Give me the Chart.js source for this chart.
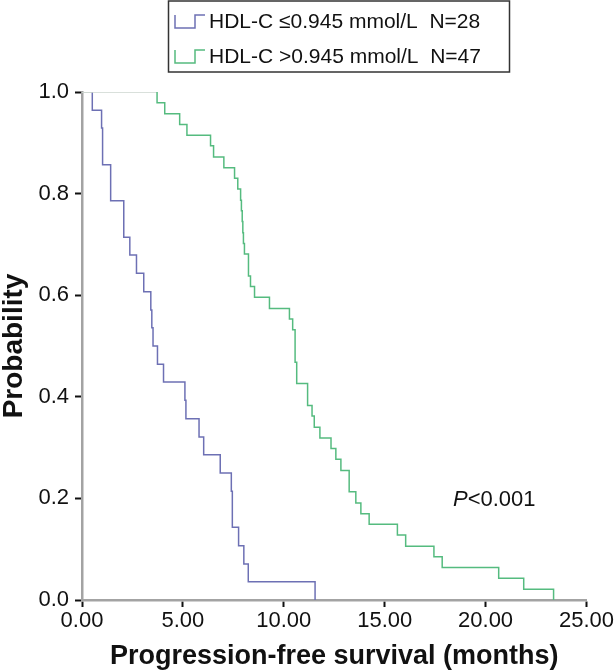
<!DOCTYPE html>
<html>
<head>
<meta charset="utf-8">
<script src="https://cdn.jsdelivr.net/npm/chart.js@4.4.1/dist/chart.umd.min.js"></script>
<style>
  html, body { margin: 0; padding: 0; background: #fff; }
  #wrap { width: 615px; height: 670px; position: relative; }
</style>
</head>
<body>
<div id="wrap"><canvas id="km"></canvas></div>
<script>
// Kaplan-Meier steps: event time (months) -> survival after the drop
const lowLabel = 'HDL-C \u22640.945 mmol/L  N=28';
const lowTimes = [0, 0.51, 0.97, 1.02, 1.42, 2.07, 2.37, 2.70, 3.06, 3.41, 3.46, 3.52, 3.74, 4.04, 5.10, 5.15, 5.80, 6.03, 6.85, 7.40, 7.45, 7.76, 8.02, 8.24, 11.55];
const lowSurv  = [1, 0.964, 0.929, 0.857, 0.786, 0.714, 0.679, 0.643, 0.607, 0.571, 0.536, 0.500, 0.464, 0.429, 0.393, 0.357, 0.321, 0.286, 0.250, 0.214, 0.143, 0.107, 0.071, 0.036, 0];

const highLabel = 'HDL-C >0.945 mmol/L  N=47';
const highTimes = [0, 3.72, 4.10, 4.84, 5.20, 6.37, 6.52, 7.03, 7.56, 7.72, 7.86, 7.90, 7.94, 7.97, 8.00, 8.05, 8.25, 8.35, 8.55, 9.29, 10.28, 10.44, 10.56, 10.64, 11.18, 11.40, 11.51, 11.79, 12.34, 12.58, 12.83, 13.24, 13.57, 13.82, 14.23, 15.63, 16.04, 17.44, 17.85, 20.65, 21.89, 23.37];
const highSurv  = [1, 0.979, 0.957, 0.936, 0.915, 0.894, 0.872, 0.851, 0.830, 0.809, 0.787, 0.766, 0.745, 0.723, 0.702, 0.681, 0.638, 0.617, 0.596, 0.574, 0.553, 0.532, 0.468, 0.426, 0.383, 0.362, 0.340, 0.319, 0.298, 0.277, 0.255, 0.213, 0.191, 0.170, 0.149, 0.128, 0.106, 0.085, 0.064, 0.043, 0.021, 0];

const xTicks = [0, 5, 10, 15, 20, 25];
const yTicks = [0, 0.2, 0.4, 0.6, 0.8, 1.0];
const pValueText = '<0.001';

const lowColor = '#6d70b4';
const highColor = '#55bb7f';
const plateauColor = '#cdd6cf';
const FONT = "'Liberation Sans', Arial, sans-serif";

// turn times + survival into step points; keep the 1.0 plateau as its own segment
function toPoints(times, surv) {
    const pts = [];
    for (let i = 0; i < times.length; i++) {
        if (i === 1 && surv[0] === 1) pts.push({ x: times[1], y: 1 });
        pts.push({ x: times[i], y: surv[i] });
    }
    return pts;
}

function drawStepIcon(ctx, x, y, color) {
    ctx.save();
    ctx.strokeStyle = color;
    ctx.lineWidth = 1.5;
    ctx.beginPath();
    ctx.moveTo(x, y - 7);
    ctx.lineTo(x, y + 6);
    ctx.lineTo(x + 20, y + 6);
    ctx.lineTo(x + 20, y - 7);
    ctx.lineTo(x + 30, y - 7);
    ctx.stroke();
    ctx.restore();
}

const extrasPlugin = {
    id: 'extras',
    afterDraw(chart) {
        const ctx = chart.ctx;
        // legend box
        ctx.save();
        ctx.strokeStyle = '#333';
        ctx.lineWidth = 1.5;
        ctx.strokeRect(168.5, 1, 341, 71);
        ctx.font = '21px ' + FONT;
        ctx.fillStyle = '#111';
        ctx.textBaseline = 'middle';
        drawStepIcon(ctx, 175, 22, lowColor);
        ctx.fillText(lowLabel, 209, 22);
        drawStepIcon(ctx, 175, 57, highColor);
        ctx.fillText(highLabel, 209, 57);

        // p value
        ctx.font = 'italic 22px ' + FONT;
        ctx.fillText('P', 453, 500);
        const w = ctx.measureText('P').width;
        ctx.font = '22px ' + FONT;
        ctx.fillText(pValueText, 453 + w, 500);
        ctx.restore();
    }
};

const ctx = document.getElementById('km').getContext('2d');
new Chart(ctx, {
    type: 'line',
    data: {
        datasets: [
            {
                label: highLabel,
                data: toPoints(highTimes, highSurv),
                borderColor: highColor,
                borderWidth: 1.5,
                stepped: true,
                pointRadius: 0,
                fill: false,
                segment: {
                    borderColor: c => (c.p0.parsed.y === 1 && c.p1.parsed.y === 1) ? plateauColor : undefined
                }
            },
            {
                label: lowLabel,
                data: toPoints(lowTimes, lowSurv),
                borderColor: lowColor,
                borderWidth: 1.5,
                stepped: true,
                pointRadius: 0,
                fill: false,
                segment: {
                    borderColor: c => (c.p0.parsed.y === 1 && c.p1.parsed.y === 1) ? plateauColor : undefined
                }
            }
        ]
    },
    options: {
        responsive: true,
        maintainAspectRatio: false,
        animation: false,
        layout: { padding: { top: 92, right: 27, left: 0, bottom: 0 } },
        plugins: {
            legend: { display: false },
            tooltip: { enabled: false }
        },
        scales: {
            x: {
                type: 'linear',
                min: 0,
                max: 25,
                afterFit: s => { s.height = 70; },
                afterBuildTicks: s => { s.ticks = xTicks.map(v => ({ value: v })); },
                ticks: {
                    color: '#111',
                    font: { family: FONT, size: 22 },
                    padding: 1,
                    maxRotation: 0,
                    callback: v => v.toFixed(2)
                },
                grid: {
                    drawOnChartArea: false,
                    drawTicks: true,
                    tickLength: 7,
                    tickColor: '#111',
                    tickWidth: 2
                },
                border: { color: '#a3a3a3', width: 2.5 },
                title: {
                    display: true,
                    text: 'Progression-free survival (months)',
                    color: '#111',
                    font: { family: FONT, size: 27, weight: 'bold', lineHeight: 1 },
                    padding: 0
                }
            },
            y: {
                min: 0,
                max: 1,
                afterFit: s => { s.width = 82; },
                afterBuildTicks: s => { s.ticks = yTicks.map(v => ({ value: v })); },
                ticks: {
                    color: '#111',
                    font: { family: FONT, size: 22 },
                    padding: 6,
                    callback: v => v.toFixed(1)
                },
                grid: {
                    drawOnChartArea: false,
                    drawTicks: true,
                    tickLength: 7,
                    tickColor: '#111',
                    tickWidth: 2
                },
                border: { color: '#a3a3a3', width: 2.5 },
                title: {
                    display: true,
                    text: 'Probability',
                    color: '#111',
                    font: { family: FONT, size: 28, weight: 'bold', lineHeight: 1 },
                    padding: 0
                }
            }
        }
    },
    plugins: [extrasPlugin]
});
</script>
</body>
</html>
